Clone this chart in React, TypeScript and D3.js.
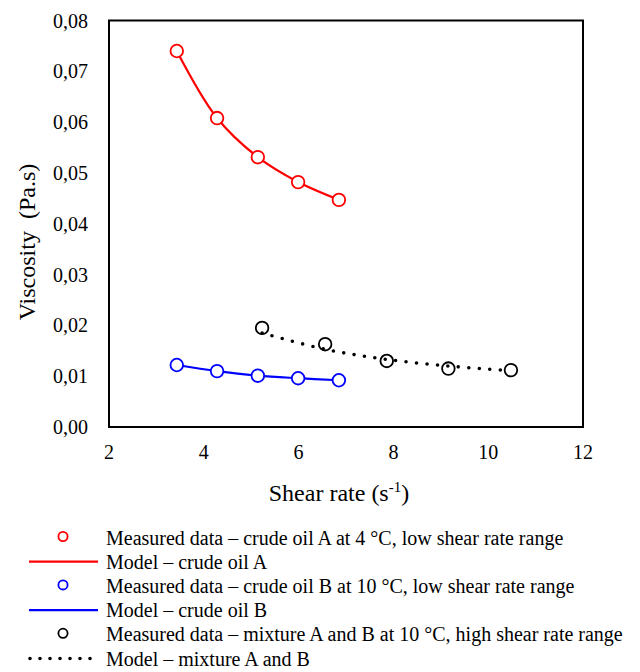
import React from "react";
import * as d3 from "d3";

const shearA = [3.43, 4.28, 5.14, 5.99, 6.85];
const viscA = [0.074, 0.0608, 0.0531, 0.0482, 0.0447];
const shearB = [3.43, 4.28, 5.14, 5.99, 6.85];
const viscB = [0.0122, 0.011, 0.0101, 0.0096, 0.0092];
const shearMix = [5.23, 6.56, 7.86, 9.16, 10.48];
const viscMix = [0.0195, 0.0163, 0.013, 0.0115, 0.0112];
const modelMixShear = [5.23, 6.56, 7.86, 9.16, 10.3];
const modelMixVisc = [0.0185, 0.0153, 0.0133, 0.012, 0.0112];
const xTicks = [2, 4, 6, 8, 10, 12];
const yTicks = [0, 0.01, 0.02, 0.03, 0.04, 0.05, 0.06, 0.07, 0.08];
const legendItems = [
  { kind: "marker", color: "#ff0000", label: "Measured data – crude oil A at 4 °C, low shear rate range" },
  { kind: "line", color: "#ff0000", label: "Model – crude oil A" },
  { kind: "marker", color: "#0000ff", label: "Measured data – crude oil B at 10 °C, low shear rate range" },
  { kind: "line", color: "#0000ff", label: "Model – crude oil B" },
  { kind: "marker", color: "#000000", label: "Measured data – mixture A and B at 10 °C, high shear rate range" },
  { kind: "dots", color: "#000000", label: "Model – mixture A and B" },
];

const FONT = "'Liberation Serif', 'Times New Roman', serif";

export default function App() {
  const W = 640, H = 672;
  const left = 109, right = 583, top = 20.5, bottom = 427;
  const x = d3.scaleLinear().domain([2, 12]).range([left, right]);
  const y = d3.scaleLinear().domain([0, 0.08]).range([bottom, top]);
  const line = d3
    .line<[number, number]>()
    .x((d) => x(d[0]))
    .y((d) => y(d[1]))
    .curve(d3.curveCatmullRom.alpha(0.5));
  const zip = (a: number[], b: number[]) => a.map((v, i) => [v, b[i]] as [number, number]);
  const fmt = (v: number) => v.toFixed(2).replace(".", ",");

  return (
    <svg width={W} height={H} style={{ position: "absolute", left: 0, top: 0, background: "#fff" }} fontFamily={FONT}>
      <rect x={left} y={top} width={right - left} height={bottom - top} fill="#fff" stroke="#000" strokeWidth={2} />
      {yTicks.map((t) => (
        <text key={t} x={88} y={y(t) + 7} textAnchor="end" fontSize={20} fill="#000">
          {fmt(t)}
        </text>
      ))}
      {xTicks.map((t) => (
        <text key={t} x={x(t)} y={459} textAnchor="middle" fontSize={20} fill="#000">
          {t}
        </text>
      ))}
      <text x={339} y={501} textAnchor="middle" fontSize={24} fill="#000">
        Shear rate (s<tspan dy={-9} fontSize={15}>-1</tspan><tspan dy={9}>)</tspan>
      </text>
      <text
        transform={`translate(35,242) rotate(-90)`}
        textAnchor="middle"
        fontSize={24}
        fill="#000"
        style={{ whiteSpace: "pre" }}
      >
        {"Viscosity  (Pa.s)"}
      </text>

      <path d={line(zip(shearA, viscA)) || ""} fill="none" stroke="#ff0000" strokeWidth={2.2} />
      <path d={line(zip(shearB, viscB)) || ""} fill="none" stroke="#0000ff" strokeWidth={2.2} />
      <path
        d={line(zip(modelMixShear, modelMixVisc)) || ""}
        fill="none"
        stroke="#000"
        strokeWidth={3.6}
        strokeDasharray="0 10.5"
        strokeLinecap="round"
      />
      {shearA.map((s, i) => (
        <circle key={"a" + i} cx={x(s)} cy={y(viscA[i])} r={6.3} fill="#fff" stroke="#ff0000" strokeWidth={1.8} />
      ))}
      {shearB.map((s, i) => (
        <circle key={"b" + i} cx={x(s)} cy={y(viscB[i])} r={6.3} fill="#fff" stroke="#0000ff" strokeWidth={1.8} />
      ))}
      {shearMix.map((s, i) => (
        <circle key={"m" + i} cx={x(s)} cy={y(viscMix[i])} r={6.3} fill="none" stroke="#000" strokeWidth={1.8} />
      ))}

      {legendItems.map((it, i) => {
        const cy = 537.5 + i * 24.2;
        return (
          <g key={i}>
            {it.kind === "marker" && (
              <circle cx={63} cy={cy - 1} r={4.6} fill="#fff" stroke={it.color} strokeWidth={1.8} />
            )}
            {it.kind === "line" && <line x1={29} x2={98} y1={cy} y2={cy} stroke={it.color} strokeWidth={2.2} />}
            {it.kind === "dots" && (
              <line
                x1={30}
                x2={100}
                y1={cy}
                y2={cy}
                stroke={it.color}
                strokeWidth={3.6}
                strokeDasharray="0 10"
                strokeLinecap="round"
              />
            )}
            <text x={106} y={cy + 7} fontSize={20} fill="#000">
              {it.label}
            </text>
          </g>
        );
      })}
    </svg>
  );
}
